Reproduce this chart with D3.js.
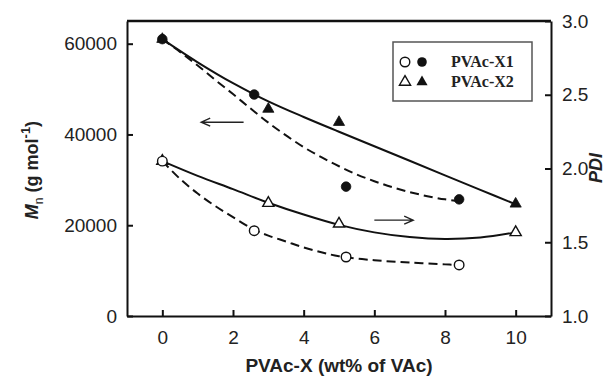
<!DOCTYPE html>
<html>
<head>
<meta charset="utf-8">
<script src="https://cdn.jsdelivr.net/npm/d3@7"></script>
<style>
  body { margin: 0; background: #fff; }
  svg { display: block; }
  text { font-family: "Liberation Sans", Arial, sans-serif; fill: #222; }
</style>
</head>
<body>
<svg id="chart" width="613" height="378"></svg>
<script>
// measured points
var x1Loading = [0, 2.6, 5.2, 8.4];
var x1Mn = [61000, 48800, 28500, 25700];
var x1Pdi = [2.05, 1.578, 1.40, 1.346];

var x2Loading = [0, 3, 5, 10];
var x2Mn = [61000, 45600, 42700, 24700];
var x2Pdi = [2.05, 1.765, 1.625, 1.567];

// fitted curves
var fitX1Loading = [0, 0.5, 1, 1.5, 2, 2.5, 3, 3.5, 4, 4.5, 5, 5.5, 6, 6.5, 7, 7.5, 8, 8.4];
var fitX1Mn = [61000, 58200, 55200, 52000, 48900, 45700, 42600, 39800, 37200, 35000, 33000, 31200, 29700, 28400, 27300, 26400, 25700, 25300];
var fitX1PdiLoading = [0, 0.5, 1, 1.5, 2, 2.6, 3, 3.5, 4, 4.5, 5, 6, 7, 8, 8.4];
var fitX1Pdi = [2.05, 1.93, 1.83, 1.745, 1.67, 1.585, 1.545, 1.505, 1.465, 1.432, 1.405, 1.378, 1.362, 1.35, 1.346];

var fitX2Loading = [0, 1, 2, 3, 4, 5, 6, 7, 8, 9, 10];
var fitX2Mn = [61000, 55900, 51300, 47300, 43850, 40600, 37400, 34200, 31000, 27800, 24600];
var fitX2Pdi = [2.05, 1.95, 1.86, 1.768, 1.688, 1.618, 1.567, 1.535, 1.522, 1.532, 1.567];

var xTicks = [0, 2, 4, 6, 8, 10];
var mnTicks = [0, 20000, 40000, 60000];
var pdiTicks = [1.0, 1.5, 2.0, 2.5, 3.0];

var legendNames = ['PVAc-X1', 'PVAc-X2'];

// direction arrows: [from, to, level, axis]
var arrows = [
  {from: 2.3, to: 1.1, level: 42700, axis: 'mn'},
  {from: 6.0, to: 7.1, level: 1.65, axis: 'pdi'}
];

var margin = {top: 21, right: 62, bottom: 62, left: 127}
  , width = 613
  , height = 378;

var svg = d3.select('#chart');

var x = d3.scaleLinear().domain([-1, 11]).range([margin.left, width - margin.right]);
var yMn = d3.scaleLinear().domain([0, 65000]).range([height - margin.bottom, margin.top]);
var yPdi = d3.scaleLinear().domain([1, 3]).range([height - margin.bottom, margin.top]);

function axisStyle(g) {
  g.select('.domain').attr('stroke', '#111').attr('stroke-width', 2);
  g.selectAll('.tick line').attr('stroke', '#111').attr('stroke-width', 2);
  g.selectAll('.tick text').style('font-size', '19px').attr('fill', '#222');
}

svg.append('g')
  .attr('transform', 'translate(0,' + (height - margin.bottom) + ')')
  .call(d3.axisBottom(x).tickValues(xTicks).tickSizeInner(-6).tickSizeOuter(0).tickPadding(15))
  .call(axisStyle);

svg.append('g')
  .attr('transform', 'translate(' + margin.left + ',0)')
  .call(d3.axisLeft(yMn).tickValues(mnTicks).tickSizeInner(-6).tickSizeOuter(0).tickPadding(10).tickFormat(d3.format('d')))
  .call(axisStyle);

svg.append('g')
  .attr('transform', 'translate(' + (width - margin.right) + ',0)')
  .call(d3.axisRight(yPdi).tickValues(pdiTicks).tickSizeInner(-6).tickSizeOuter(0).tickPadding(11).tickFormat(d3.format('.1f')))
  .call(axisStyle);

// top border
svg.append('line')
  .attr('x1', margin.left).attr('x2', width - margin.right)
  .attr('y1', margin.top).attr('y2', margin.top)
  .attr('stroke', '#111').attr('stroke-width', 2.5);

// fit curves
function drawFit(xs, ys, yScale, dashed) {
  var line = d3.line()
    .x((d, i) => x(xs[i]))
    .y(d => yScale(d))
    .curve(d3.curveCatmullRom.alpha(0.5));
  svg.append('path')
    .datum(ys)
    .attr('d', line)
    .attr('fill', 'none')
    .attr('stroke', '#111')
    .attr('stroke-width', 2)
    .attr('stroke-dasharray', dashed ? '9,5' : null);
}

drawFit(fitX1Loading, fitX1Mn, yMn, true);
drawFit(fitX2Loading, fitX2Mn, yMn, false);
drawFit(fitX1PdiLoading, fitX1Pdi, yPdi, true);
drawFit(fitX2Loading, fitX2Pdi, yPdi, false);

var circle = d3.symbol().type(d3.symbolCircle).size(72);
var triangle = d3.symbol().type(d3.symbolTriangle).size(54);

function drawMarkers(xs, ys, yScale, sym, filled) {
  svg.append('g')
    .selectAll('path')
    .data(ys)
    .join('path')
    .attr('transform', (d, i) => 'translate(' + x(xs[i]) + ',' + yScale(d) + ')')
    .attr('d', sym)
    .attr('fill', filled ? '#111' : '#fff')
    .attr('stroke', '#111')
    .attr('stroke-width', filled ? 0.8 : 1.4);
}

drawMarkers(x2Loading, x2Pdi, yPdi, triangle, false);
drawMarkers(x1Loading, x1Pdi, yPdi, circle, false);
drawMarkers(x2Loading, x2Mn, yMn, triangle, true);
drawMarkers(x1Loading, x1Mn, yMn, circle, true);

// arrows
arrows.forEach(function (a) {
  var ys = a.axis === 'mn' ? yMn : yPdi
    , x0 = x(a.from)
    , xe = x(a.to)
    , yy = ys(a.level)
    , dir = xe > x0 ? 1 : -1;
  svg.append('path')
    .attr('d', 'M' + x0 + ',' + yy + 'L' + xe + ',' + yy
      + 'M' + (xe - dir * 9) + ',' + (yy - 4) + 'L' + xe + ',' + yy + 'L' + (xe - dir * 9) + ',' + (yy + 4))
    .attr('fill', 'none')
    .attr('stroke', '#222')
    .attr('stroke-width', 1.4);
});

// legend
var legend = svg.append('g').attr('transform', 'translate(393,42)');
legend.append('rect')
  .attr('width', 139).attr('height', 59)
  .attr('fill', '#fff').attr('stroke', '#555').attr('stroke-width', 1.5);

legendNames.forEach(function (name, i) {
  var row = legend.append('g').attr('transform', 'translate(0,' + (20 + i * 20) + ')');
  var sym = i === 0 ? circle : triangle;
  row.append('path').attr('transform', 'translate(12,0)').attr('d', sym)
    .attr('fill', '#fff').attr('stroke', '#111').attr('stroke-width', 1.4);
  row.append('path').attr('transform', 'translate(29,0)').attr('d', sym)
    .attr('fill', '#111');
  row.append('text')
    .attr('x', 58).attr('y', 5)
    .style('font-family', '"Liberation Serif", "Times New Roman", serif')
    .style('font-weight', 'bold')
    .style('font-size', '16px')
    .text(name);
});

// axis titles
svg.append('text')
  .attr('x', (x(-1) + x(11)) / 2).attr('y', 372)
  .attr('text-anchor', 'middle')
  .style('font-weight', 'bold').style('font-size', '19px')
  .text('PVAc-X (wt% of VAc)');

var yTitle = svg.append('text')
  .attr('transform', 'translate(38,170) rotate(-90)')
  .attr('text-anchor', 'middle')
  .style('font-weight', 'bold').style('font-size', '18px');
yTitle.append('tspan').style('font-style', 'italic').text('M');
yTitle.append('tspan').attr('dy', 5).style('font-size', '12px').style('font-weight', 'normal').text('n');
yTitle.append('tspan').attr('dy', -5).text(' (g mol');
yTitle.append('tspan').attr('dy', -8).style('font-size', '13px').text('-1');
yTitle.append('tspan').attr('dy', 8).text(')');

svg.append('text')
  .attr('transform', 'translate(602,168) rotate(-90)')
  .attr('text-anchor', 'middle')
  .style('font-weight', 'bold').style('font-style', 'italic').style('font-size', '18px')
  .text('PDI');
</script>
</body>
</html>
